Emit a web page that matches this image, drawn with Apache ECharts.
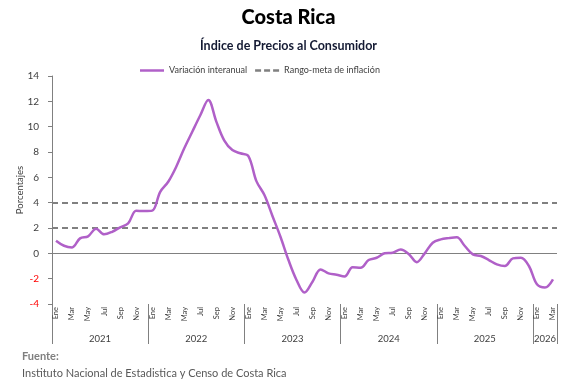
<!DOCTYPE html>
<html>
<head>
<meta charset="utf-8">
<script src="https://cdn.jsdelivr.net/npm/echarts@6/dist/echarts.min.js"></script>
<style>
html,body{margin:0;padding:0;background:#fff;}
#c{width:577px;height:387px;}
</style>
</head>
<body>
<div id="c"></div>
<script>
const monthNames = ['Ene','Feb','Mar','Abr','May','Jun','Jul','Ago','Sep','Oct','Nov','Dic'];
const years = ['2021','2022','2023','2024','2025','2026'];
// Variación interanual, Ene 2021 - Mar 2026
const inflacion = [
  1.0, 0.6, 0.47, 1.18, 1.34, 1.95, 1.5, 1.7, 2.05, 2.37, 3.36, 3.34,
  3.37, 4.86, 5.65, 6.84, 8.29, 9.6, 10.9, 12.1, 10.4, 8.9, 8.15, 7.9,
  7.68, 5.7, 4.6, 2.95, 1.31, -0.53, -2.1, -3.1, -2.24, -1.27, -1.58, -1.69,
  -1.82, -1.1, -1.14, -0.53, -0.35, 0.0, 0.05, 0.3, -0.05, -0.7, 0.0, 0.84,
  1.1, 1.2, 1.26, 0.58, -0.08, -0.21, -0.53, -0.87, -1.0, -0.4, -0.35, -1.0,
  -2.45, -2.7, -2.05
];
const rangoMeta = [2, 4];
const yTicks = {min: -4, max: 14, interval: 2};

const monthCats = inflacion.map((v, i) => monthNames[i % 12]);
const yearOf = inflacion.map((v, i) => years[Math.floor(i / 12)]);

// year label positions (centre of each year's span)
const yearLabelAt = {};
years.forEach((y, k) => {
  const start = k * 12;
  const n = Math.min(12, inflacion.length - start);
  if (n <= 0) return;
  if (n % 2 === 0) yearLabelAt[start + n / 2 - 1] = {txt: y, shift: true};
  else yearLabelAt[start + (n - 1) / 2] = {txt: y, shift: false};
});

const FONT = 'Lato';
const TXT = '#404040';
const chart = echarts.init(document.getElementById('c'), null, {renderer: 'canvas'});
chart.setOption({
  animation: false,
  backgroundColor: '#ffffff',
  textStyle: {fontFamily: FONT},
  title: [
    {text: 'Costa Rica', left: 'center', top: 3,
     textStyle: {fontFamily: FONT, fontSize: 20, fontWeight: 900, color: '#000'}},
    {text: 'Índice de Precios al Consumidor', left: 'center', top: 34,
     textStyle: {fontFamily: FONT, fontSize: 12.5, fontWeight: 'bold', color: '#141a33'}},
    {text: 'Fuente:', left: 17, top: 346,
     textStyle: {fontFamily: FONT, fontSize: 11, fontWeight: 'bold', color: '#7f7f7f'}},
    {text: 'Instituto Nacional de Estadistica y Censo de Costa Rica', left: 17, top: 363,
     textStyle: {fontFamily: FONT, fontSize: 11, fontWeight: 'normal', color: '#595959'}}
  ],
  legend: {
    top: 61, left: 135, itemWidth: 24, itemHeight: 8, itemGap: 8,
    textStyle: {fontFamily: FONT, fontSize: 9, color: TXT},
    data: [
      {name: 'Variación interanual', icon: 'path://M0,0 L24,0 L24,2.5 L0,2.5 Z', itemStyle: {color: '#b060c8'}},
      {name: 'Rango-meta de inflación', icon: 'path://M0,0 L6,0 L6,2.5 L0,2.5 Z M9,0 L15,0 L15,2.5 L9,2.5 Z M18,0 L24,0 L24,2.5 L18,2.5 Z', itemStyle: {color: '#808080'}}
    ]
  },
  grid: {left: 52, right: 20, top: 76, bottom: 83, containLabel: false},
  xAxis: [
    {
      type: 'category', data: monthCats, boundaryGap: true, position: 'bottom',
      axisLine: {show: false, onZero: false},
      axisTick: {show: true, interval: 11, length: 40, lineStyle: {color: '#808080', width: 1}},
      axisLabel: {interval: 1, rotate: 90, fontSize: 7.5, color: TXT, margin: 3, fontFamily: FONT}
    },
    {
      type: 'category', data: monthCats.map((m, i) => yearOf[i] + '-' + m), boundaryGap: true,
      position: 'bottom', offset: 28,
      axisLine: {show: false, onZero: false}, axisTick: {show: false},
      axisLabel: {
        interval: (i) => yearLabelAt[i] !== undefined,
        formatter: (v, i) => {
          const o = yearLabelAt[i];
          if (!o) return '';
          return o.shift ? '{s|' + o.txt + '}' : '{n|' + o.txt + '}';
        },
        rich: {
          s: {padding: [0, 0, 0, 8], fontSize: 9.5, color: TXT, fontFamily: FONT},
          n: {fontSize: 9.5, color: TXT, fontFamily: FONT}
        },
        margin: 2, fontSize: 9.5, color: TXT
      }
    }
  ],
  yAxis: {
    type: 'value', min: yTicks.min, max: yTicks.max, interval: yTicks.interval,
    name: 'Porcentajes', nameLocation: 'middle', nameGap: 27, nameMoveOverlap: false,
    nameTextStyle: {fontSize: 9.5, color: TXT, fontFamily: FONT},
    axisLine: {show: true, lineStyle: {color: '#808080', width: 1}},
    axisTick: {show: true, length: 4, lineStyle: {color: '#808080'}},
    splitLine: {show: false},
    axisLabel: {fontSize: 10, margin: 13, fontFamily: FONT,
      color: (v) => (Number(v) < 0 ? '#ff0000' : TXT)}
  },
  series: [
    {
      name: 'Variación interanual', type: 'line', data: inflacion, xAxisIndex: 0,
      smooth: 0.35, symbol: 'none', z: 5,
      lineStyle: {color: '#b060c8', width: 2.5},
      itemStyle: {color: '#b060c8'},
      markLine: {
        silent: true, symbol: 'none', label: {show: false},
        lineStyle: {color: '#808080', type: 'solid', width: 1},
        data: [{yAxis: 0}]
      }
    },
    {
      name: 'Rango-meta de inflación', type: 'line', data: [], xAxisIndex: 0,
      symbol: 'none',
      lineStyle: {color: '#808080', type: [6, 4], width: 2},
      itemStyle: {color: '#808080'},
      markLine: {
        silent: true, symbol: 'none', label: {show: false},
        lineStyle: {color: '#808080', type: [6, 4], width: 2},
        data: rangoMeta.map(v => ({yAxis: v}))
      }
    }
  ]
});
</script>
</body>
</html>
